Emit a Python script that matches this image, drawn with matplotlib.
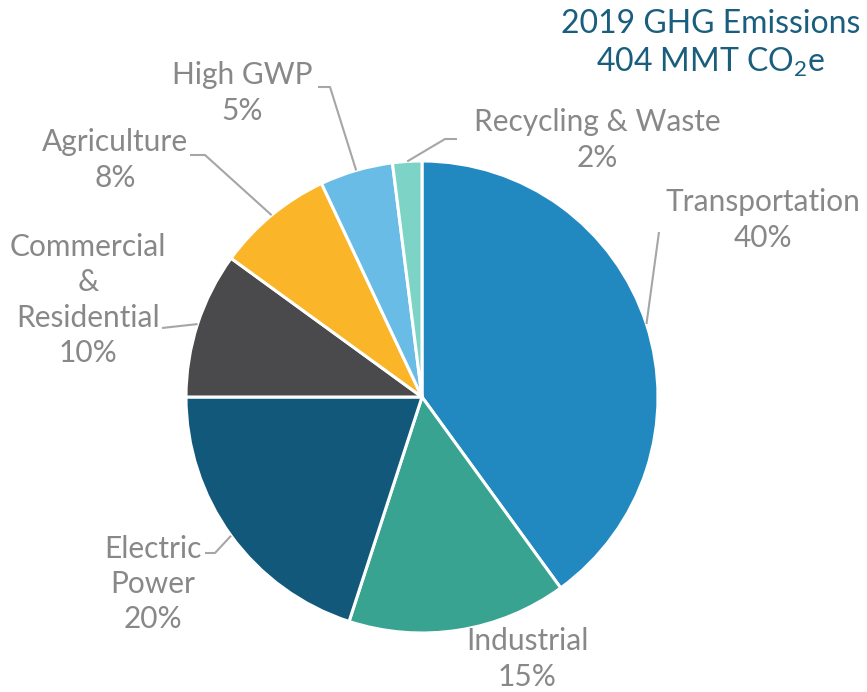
import math

import matplotlib
matplotlib.use("Agg")
import matplotlib.pyplot as plt

plt.rcParams["mathtext.fontset"] = "custom"
plt.rcParams["mathtext.rm"] = "Lato"
plt.rcParams["mathtext.it"] = "Lato"
plt.rcParams["mathtext.default"] = "rm"

W, H = 867, 692

sectors = ["Transportation", "Industrial", "Electric\nPower", "Commercial\n&\nResidential",
           "Agriculture", "High GWP", "Recycling & Waste"]
shares = [40, 15, 20, 10, 8, 5, 2]
colors = ["#2189C0", "#37A390", "#11587A", "#4A4A4C", "#FBB528", "#68BCE6", "#7DD3C5"]

LABEL_GRAY = "#888888"
LINE_GRAY = "#A6A6A6"
TITLE_COLOR = "#1A5E7E"

# label centre (pixels, y down) and elbow points of the leader line (pixels)
label_pos = [(763, 220), (527, 659), (153, 584), (88, 300), (115, 160), (242, 93), (597, 140)]
elbows = [
    [(659, 232)],
    None,
    [(205, 553), (215, 553)],
    [(162, 328)],
    [(190, 155), (205, 155)],
    [(318, 87), (330, 87)],
    [(457, 139), (445, 139)],
]

cx, cy, r = 422, 397, 236


def fy(y):
    return H - y


fig = plt.figure(figsize=(W / 100, H / 100), dpi=100)
ax = fig.add_axes([0, 0, 1, 1])
wedges, _ = ax.pie(shares, colors=colors, startangle=90, counterclock=False,
                   center=(cx, fy(cy)), radius=r,
                   wedgeprops=dict(edgecolor="white", linewidth=2.2))
ax.set_xlim(0, W)
ax.set_ylim(0, H)
ax.set_aspect("equal")
ax.axis("off")

font = dict(family=["Lato", "DejaVu Sans"], fontsize=21.5, color=LABEL_GRAY)

for w, name, share, (lx, ly), pts in zip(wedges, sectors, shares, label_pos, elbows):
    ax.text(lx, fy(ly), f"{name}\n{share}%", ha="center", va="center",
            linespacing=1.32, **font)
    if pts is None:
        continue
    mid = math.radians((w.theta1 + w.theta2) / 2)
    ex, ey = cx + r * math.cos(mid), fy(cy) + r * math.sin(mid)
    xs = [p[0] for p in pts] + [ex]
    ys = [fy(p[1]) for p in pts] + [ey]
    ax.plot(xs, ys, color=LINE_GRAY, linewidth=1.5, solid_capstyle="butt")

ax.text(711, fy(44), "2019 GHG Emissions\n404 MMT CO$_2$e", ha="center", va="center",
        fontsize=23, color=TITLE_COLOR, family=["Lato", "DejaVu Sans"], linespacing=1.3)

fig.savefig("out.png", dpi=100)
